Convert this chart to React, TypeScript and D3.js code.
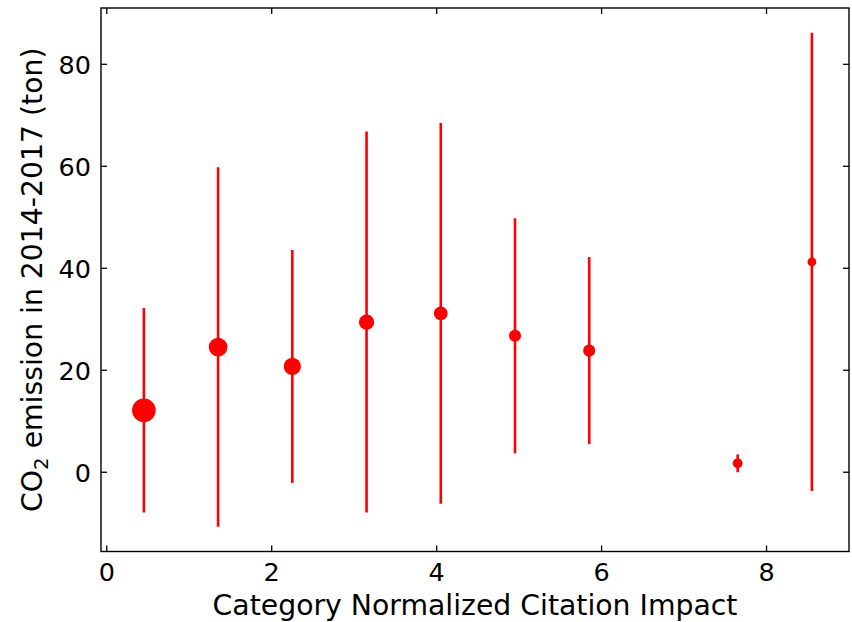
import React from "react";
import * as d3 from "d3";

// ---- data ----
const cnciBins = [0.45, 1.35, 2.25, 3.15, 4.05, 4.95, 5.85, 7.65, 8.55];
const meanEmission = [12.15, 24.55, 20.75, 29.45, 31.15, 26.75, 23.85, 1.75, 41.25];
const stdEmission = [20.05, 35.25, 22.85, 37.35, 37.35, 23.05, 18.35, 1.75, 44.95];
// relative group weight (drives marker area)
const groupWeight = [144, 90, 76, 61, 49, 38, 38, 25, 20];
const xTicks = [0, 2, 4, 6, 8];
const yTicks = [0, 20, 40, 60, 80];

const W = 852;
const H = 622;
const M = { left: 101, right: 849, top: 8, bottom: 551.5 };
const FONT = "'DejaVu Sans', 'Liberation Sans', sans-serif";
const RED = "#ff0000";
const TICK_FS = 25.5;
const LABEL_FS = 28.3;

export default function App() {
  const lows = meanEmission.map((m, i) => m - stdEmission[i]);
  const highs = meanEmission.map((m, i) => m + stdEmission[i]);
  const yMin = d3.min(lows) as number;
  const yMax = d3.max(highs) as number;
  const pad = (yMax - yMin) * 0.05;

  const x = d3.scaleLinear().domain([-0.07, 9.0]).range([M.left, M.right]);
  const y = d3.scaleLinear().domain([yMin - pad, yMax + pad]).range([M.bottom, M.top]);
  const r = d3.scaleSqrt().domain([0, d3.max(groupWeight) as number]).range([0, 11.8]);

  const tick = 6;

  return (
    <svg
      width={W}
      height={H}
      style={{ position: "absolute", left: 0, top: 0, background: "#fff" }}
      fontFamily={FONT}
    >
      <rect x={0} y={0} width={W} height={H} fill="#fff" />
      {/* error bars */}
      {cnciBins.map((c, i) => (
        <line
          key={"e" + i}
          x1={x(c)}
          x2={x(c)}
          y1={y(lows[i])}
          y2={y(highs[i])}
          stroke={RED}
          strokeWidth={2.6}
        />
      ))}
      {/* markers */}
      {cnciBins.map((c, i) => (
        <circle key={"m" + i} cx={x(c)} cy={y(meanEmission[i])} r={r(groupWeight[i])} fill={RED} />
      ))}

      {/* frame */}
      <rect
        x={M.left}
        y={M.top}
        width={M.right - M.left}
        height={M.bottom - M.top}
        fill="none"
        stroke="#000"
        strokeWidth={1.4}
      />

      {/* x ticks */}
      {xTicks.map((t) => (
        <g key={"xt" + t}>
          <line x1={x(t)} x2={x(t)} y1={M.bottom} y2={M.bottom - tick} stroke="#000" strokeWidth={1.3} />
          <line x1={x(t)} x2={x(t)} y1={M.top} y2={M.top + tick} stroke="#000" strokeWidth={1.3} />
          <text x={x(t)} y={580.5} textAnchor="middle" fontSize={TICK_FS} fill="#000">
            {t}
          </text>
        </g>
      ))}
      {/* y ticks */}
      {yTicks.map((t) => (
        <g key={"yt" + t}>
          <line x1={M.left} x2={M.left + tick} y1={y(t)} y2={y(t)} stroke="#000" strokeWidth={1.3} />
          <line x1={M.right} x2={M.right - tick} y1={y(t)} y2={y(t)} stroke="#000" strokeWidth={1.3} />
          <text x={91} y={y(t) + 9.3} textAnchor="end" fontSize={TICK_FS} fill="#000">
            {t}
          </text>
        </g>
      ))}

      {/* axis labels */}
      <text x={(M.left + M.right) / 2} y={615} textAnchor="middle" fontSize={LABEL_FS} fill="#000">
        Category Normalized Citation Impact
      </text>
      <text
        transform={`translate(42, ${(M.top + M.bottom) / 2}) rotate(-90)`}
        textAnchor="middle"
        fontSize={LABEL_FS}
        fill="#000"
      >
        CO
        <tspan fontSize={LABEL_FS * 0.7} dy={5.5}>
          2
        </tspan>
        <tspan dy={-5.5}> emission in 2014-2017 (ton)</tspan>
      </text>
    </svg>
  );
}
